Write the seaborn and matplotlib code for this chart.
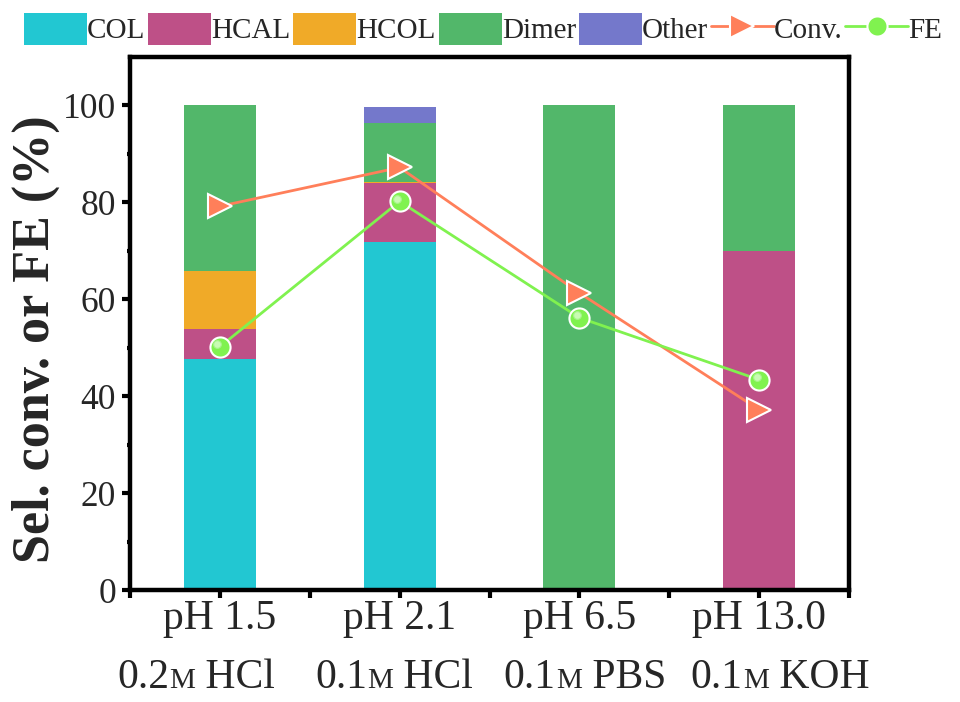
import numpy as np
import matplotlib
matplotlib.use("Agg")
import matplotlib.pyplot as plt
import seaborn as sns
from matplotlib.patches import Patch
from matplotlib.lines import Line2D
from matplotlib.offsetbox import TextArea, HPacker, AnnotationBbox
from matplotlib.transforms import offset_copy, blended_transform_factory

# ---- data -------------------------------------------------------------
conditions = ["pH 1.5", "pH 2.1", "pH 6.5", "pH 13.0"]
concentrations = ["0.2", "0.1", "0.1", "0.1"]
electrolytes = ["HCl", "HCl", "PBS", "KOH"]

# product selectivity (%), stacked bottom -> top
col = [47.7, 71.8, 0.0, 0.0]
hcal = [6.2, 12.2, 0.0, 70.0]
hcol = [11.9, 0.3, 0.0, 0.0]
dimer = [34.2, 12.0, 100.0, 30.0]
other = [0.0, 3.3, 0.0, 0.0]

conv = [79.2, 87.2, 61.3, 37.2]
fe = [50.2, 80.2, 56.2, 43.4]

product_names = ["COL", "HCAL", "HCOL", "Dimer", "Other"]
product_colors = ["#22C7D2", "#BE5087", "#F0AA28", "#52B76A", "#7478CB"]
conv_color = "#FF7F5A"
fe_color = "#80F24F"

# horizontal nudge (points) of the electrolyte line under each category
electrolyte_shift = [-17, -4, 4, 15]

# ---- style ------------------------------------------------------------
sns.set_style("ticks")
plt.rcParams["font.family"] = ["Liberation Serif", "DejaVu Serif"]

fig = plt.figure(figsize=(9.6, 7.02), dpi=100)
ax = fig.add_axes([0.1354, 0.1595, 0.749, 0.7593])

# stacked bars: draw cumulative totals from the top layer down
layers = [col, hcal, hcol, dimer, other]
cumulative = np.cumsum(np.array(layers), axis=0)
for k in range(len(layers) - 1, -1, -1):
    sns.barplot(x=conditions, y=cumulative[k], color=product_colors[k],
                saturation=1, width=0.4, errorbar=None, linewidth=0,
                edgecolor="none", ax=ax, zorder=2)

pos = np.arange(len(conditions))
sns.lineplot(x=pos, y=conv, sort=False, color=conv_color, lw=2,
             marker=">", markersize=17, markeredgecolor="white",
             markeredgewidth=1.5, ax=ax, zorder=4)
sns.lineplot(x=pos, y=fe, sort=False, color=fe_color, lw=2,
             marker="o", markersize=14.5, markeredgecolor="white",
             markeredgewidth=1.5, ax=ax, zorder=5)
# glossy highlight on the FE markers
shine = offset_copy(ax.transData, fig=fig, x=-2.6, y=2.6, units="dots")
ax.plot(pos, fe, ls="none", marker="o", markersize=5.5, color="#C9FBB4",
        markeredgecolor="#A8F58C", markeredgewidth=0.8, transform=shine,
        zorder=6)

# ---- axes -------------------------------------------------------------
ax.set_xlim(-0.5, 3.5)
ax.set_ylim(0, 110)
ax.set_xticks(pos)
ax.set_xticklabels(conditions, fontsize=30)
ax.set_xticks([-0.5, 0.5, 1.5, 2.5, 3.5], minor=True)
ax.set_yticks(np.arange(0, 101, 20))
ax.set_yticks(np.arange(10, 100, 20), minor=True)
ax.tick_params(axis="y", labelsize=25.5)
ax.tick_params(axis="x", which="both", direction="out", length=6, width=3,
               pad=1, color="black")
ax.tick_params(axis="y", which="major", direction="out", length=5.5,
               width=3, pad=4.5, color="black")
ax.tick_params(axis="y", which="minor", direction="out", length=2.5,
               width=3, color="black")
ax.set_xlabel("")
ax.set_ylabel("Sel. conv. or FE (%)", fontsize=37.5, fontweight="bold")
ax.yaxis.set_label_coords(-0.098, 0.47)
for side in ["left", "right", "top", "bottom"]:
    ax.spines[side].set_visible(True)
    ax.spines[side].set_linewidth(3.2)
    ax.spines[side].set_color("black")
ax.grid(False)

# second line of category labels, molar unit in small capitals
trans = blended_transform_factory(ax.transData, ax.transAxes)
for i in range(len(conditions)):
    parts = [TextArea(concentrations[i], textprops=dict(fontsize=30)),
             TextArea("M", textprops=dict(fontsize=21)),
             TextArea(" " + electrolytes[i], textprops=dict(fontsize=30))]
    box = HPacker(children=parts, align="baseline", pad=0, sep=0)
    ab = AnnotationBbox(box, (i, -0.165), xycoords=trans,
                        xybox=(electrolyte_shift[i], 0),
                        boxcoords="offset points",
                        box_alignment=(0.5, 0.5), frameon=False,
                        annotation_clip=False)
    ax.add_artist(ab)

# ---- legend -----------------------------------------------------------
handles = [Patch(facecolor=c, edgecolor="none") for c in product_colors]
handles.append(Line2D([], [], color=conv_color, lw=2, marker=">",
                      markersize=17, markeredgecolor="white",
                      markeredgewidth=1.5))
handles.append(Line2D([], [], color=fe_color, lw=2, marker="o",
                      markersize=14.5, markeredgecolor="white",
                      markeredgewidth=1.5))
labels = product_names + ["Conv.", "FE"]
fig.legend(handles, labels, loc="upper left", bbox_to_anchor=(0.025, 0.982),
           ncol=7, frameon=False, fontsize=21, handlelength=2.16,
           handleheight=1.31, handletextpad=0.0, columnspacing=0.1,
           borderpad=0, borderaxespad=0)

fig.savefig("out.png", dpi=100)
